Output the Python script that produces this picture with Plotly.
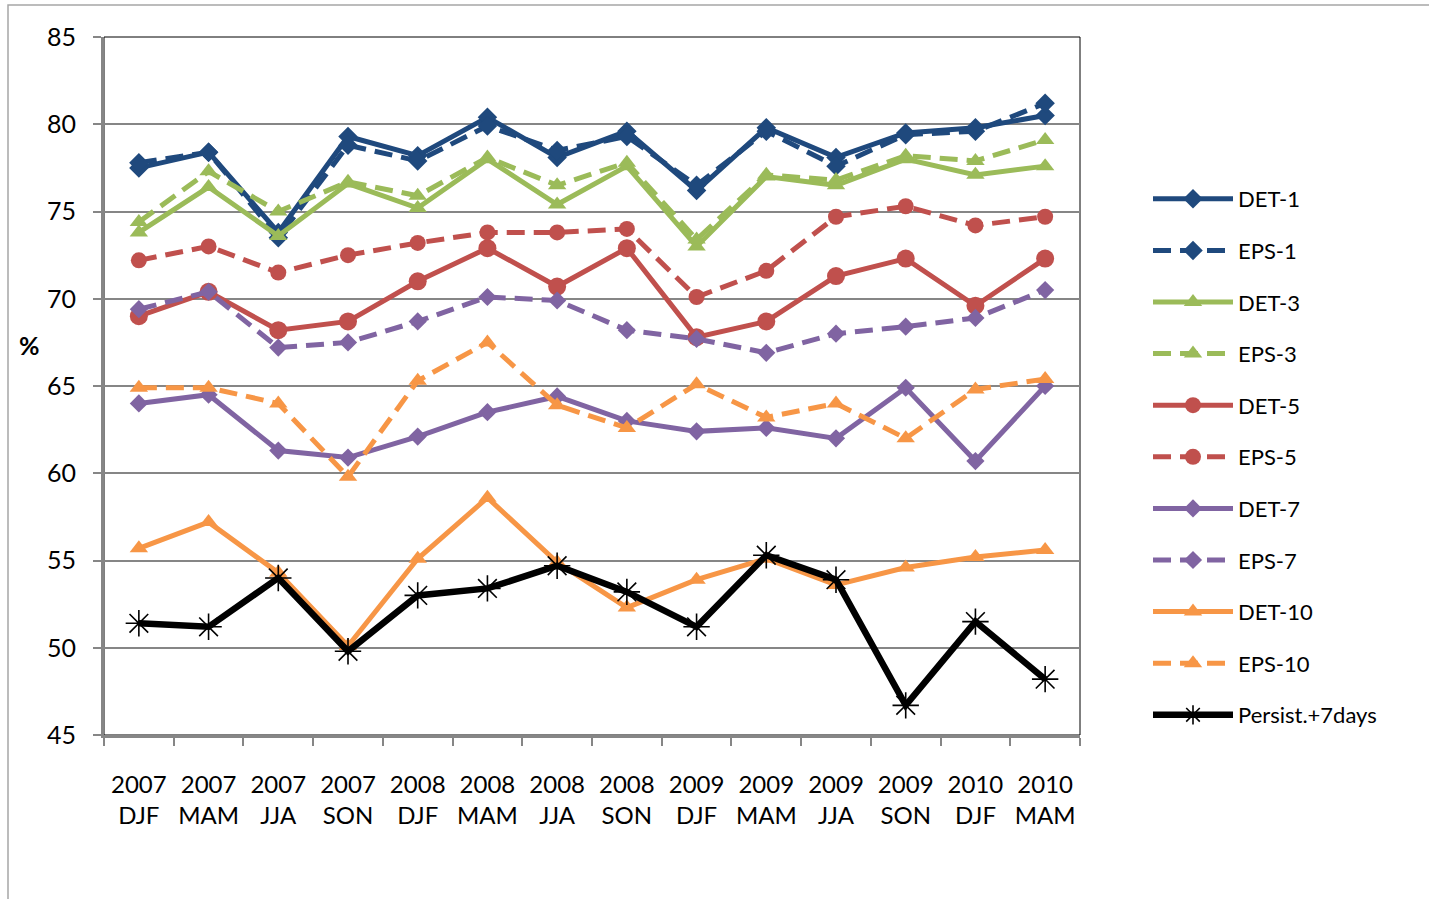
import plotly.graph_objects as go

# Seasons (category axis)
years = ["2007", "2007", "2007", "2007", "2008", "2008", "2008", "2008",
         "2009", "2009", "2009", "2009", "2010", "2010"]
seasons = ["DJF", "MAM", "JJA", "SON", "DJF", "MAM", "JJA", "SON",
           "DJF", "MAM", "JJA", "SON", "DJF", "MAM"]
categories = [f"{y} {s}" for y, s in zip(years, seasons)]
tick_text = [f"{y}<br>{s}" for y, s in zip(years, seasons)]

# Scores (%)
det_1 = [77.5, 78.4, 73.8, 79.3, 78.2, 80.4, 78.1, 79.6, 76.2, 79.8, 78.1, 79.5, 79.8, 80.5]
eps_1 = [77.8, 78.4, 73.5, 78.8, 77.9, 79.9, 78.5, 79.3, 76.5, 79.6, 77.6, 79.4, 79.6, 81.2]
det_3 = [73.8, 76.4, 73.6, 76.6, 75.2, 78.0, 75.4, 77.6, 73.0, 77.0, 76.5, 78.0, 77.1, 77.6]
eps_3 = [74.4, 77.3, 75.0, 76.7, 75.9, 78.1, 76.5, 77.8, 73.4, 77.1, 76.8, 78.2, 77.9, 79.1]
det_5 = [69.0, 70.4, 68.2, 68.7, 71.0, 72.9, 70.7, 72.9, 67.8, 68.7, 71.3, 72.3, 69.6, 72.3]
eps_5 = [72.2, 73.0, 71.5, 72.5, 73.2, 73.8, 73.8, 74.0, 70.1, 71.6, 74.7, 75.3, 74.2, 74.7]
det_7 = [64.0, 64.5, 61.3, 60.9, 62.1, 63.5, 64.4, 63.0, 62.4, 62.6, 62.0, 64.9, 60.7, 65.0]
eps_7 = [69.4, 70.4, 67.2, 67.5, 68.7, 70.1, 69.9, 68.2, 67.7, 66.9, 68.0, 68.4, 68.9, 70.5]
det_10 = [55.7, 57.2, 54.3, 50.1, 55.1, 58.6, 54.9, 52.3, 53.9, 55.1, 53.6, 54.6, 55.2, 55.6]
eps_10 = [64.9, 64.9, 64.0, 59.8, 65.3, 67.5, 63.9, 62.6, 65.1, 63.2, 64.0, 62.0, 64.8, 65.4]
persist_7 = [51.4, 51.2, 54.0, 49.8, 53.0, 53.4, 54.7, 53.2, 51.2, 55.3, 53.9, 46.7, 51.5, 48.2]

y_ticks = [45, 50, 55, 60, 65, 70, 75, 80, 85]

BLUE = "#1F497D"
GREEN = "#9BBB59"
RED = "#C0504D"
PURPLE = "#8064A2"
ORANGE = "#F79646"
DASH = "18px,9px"

series = [
    ("DET-1", det_1, BLUE, "solid", "diamond", 15),
    ("EPS-1", eps_1, BLUE, DASH, "diamond", 15),
    ("DET-3", det_3, GREEN, "solid", "triangle-up", 16),
    ("EPS-3", eps_3, GREEN, DASH, "triangle-up", 16),
    ("DET-5", det_5, RED, "solid", "circle", 18),
    ("EPS-5", eps_5, RED, DASH, "circle", 16),
    ("DET-7", det_7, PURPLE, "solid", "diamond", 14),
    ("EPS-7", eps_7, PURPLE, DASH, "diamond", 14),
    ("DET-10", det_10, ORANGE, "solid", "triangle-up", 16),
    ("EPS-10", eps_10, ORANGE, DASH, "triangle-up", 16),
]

fig = go.Figure()
for name, vals, color, dash, symbol, size in series:
    fig.add_trace(go.Scatter(
        x=categories, y=vals, name=name, mode="lines+markers",
        legendgroup=name,
        line=dict(color=color, width=5, dash=dash),
        marker=dict(symbol=symbol, size=size, color=color),
    ))

fig.add_trace(go.Scatter(
    x=categories, y=persist_7, name="Persist.+7days", mode="lines+markers",
    legendgroup="persist",
    line=dict(color="black", width=6.5),
    marker=dict(symbol="asterisk-open", size=22, color="black",
                line=dict(color="black", width=1.6)),
))

FONT = "Lato"

# Pixel geometry of the plotting area inside the 1429x899 page
L, R, T, B = 104, 1080, 37, 735
W, H = 1429, 899


def px_x(x):
    return (x - L) / (R - L)


def px_y(y):
    return (B - y) / (B - T)


shapes = [
    # outer chart frame
    dict(type="rect", xref="paper", yref="paper",
         x0=px_x(8), x1=px_x(1440), y0=px_y(905), y1=px_y(5),
         line=dict(color="#A6A6A6", width=1.5), layer="below"),
    # plot area border
    dict(type="rect", xref="paper", yref="paper",
         x0=0, x1=1, y0=0, y1=1,
         line=dict(color="black", width=1), layer="below"),
]

fig.update_layout(
    width=W, height=H,
    margin=dict(l=L, r=W - R, t=T, b=H - B, pad=0),
    paper_bgcolor="white", plot_bgcolor="white",
    font=dict(family=FONT, size=22, color="black"),
    showlegend=True,
    legend=dict(
        x=px_x(1148), y=px_y(178), xanchor="left", yanchor="top",
        font=dict(family=FONT, size=22, color="black"),
        tracegroupgap=20, itemwidth=80,
        bgcolor="rgba(0,0,0,0)",
    ),
    shapes=shapes,
    annotations=[dict(
        text="<b>%</b>", xref="paper", yref="paper",
        x=px_x(29), y=px_y(345), xanchor="center", yanchor="middle",
        showarrow=False,
        font=dict(family=FONT, size=25, color="black"),
    )],
)

fig.update_xaxes(
    type="category", categoryorder="array", categoryarray=categories,
    tickmode="array", tickvals=categories, ticktext=tick_text,
    tickson="boundaries", ticks="outside", ticklen=8, tickwidth=1.5,
    tickcolor="#868686", tickangle=0,
    showline=True, linecolor="#868686", linewidth=3,
    showgrid=False, ticklabelstandoff=26,
    tickfont=dict(family=FONT, size=24, color="black"),
    range=[-0.5, len(categories) - 0.5],
)

fig.update_yaxes(
    range=[45, 85], tickmode="array", tickvals=y_ticks,
    ticks="outside", ticklen=8, tickwidth=1.5, tickcolor="#868686",
    showline=True, linecolor="#868686", linewidth=3,
    showgrid=True, gridcolor="#868686", gridwidth=2,
    zeroline=False, ticklabelstandoff=12,
    tickfont=dict(family=FONT, size=25, color="black"),
)

fig.write_html("out.html")
